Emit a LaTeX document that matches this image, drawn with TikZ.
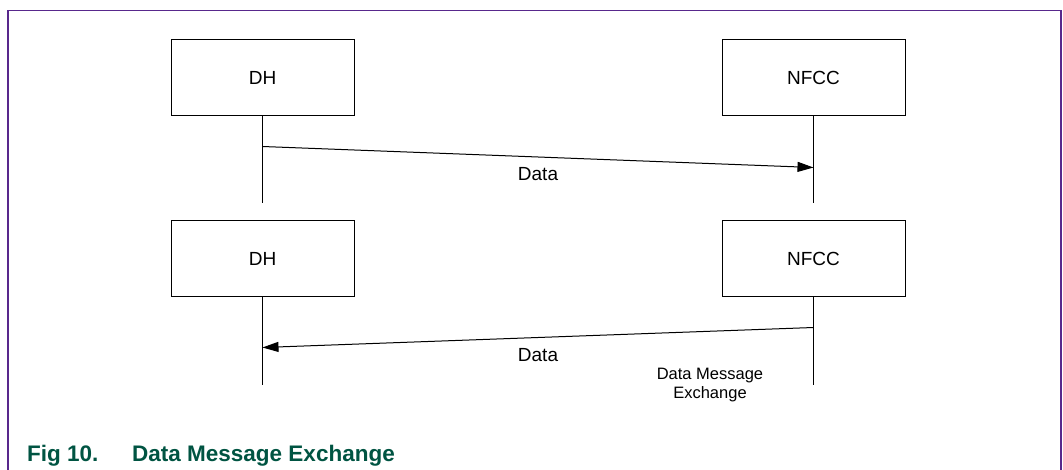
\documentclass[tikz,border=0pt]{standalone}
\usepackage{fontspec}
\setmainfont{Liberation Sans}
\usetikzlibrary{arrows.meta,positioning,calc}
\definecolor{framepurple}{RGB}{88,40,140}
\definecolor{capgreen}{RGB}{0,84,66}
\tikzstyle{party}=[draw,line width=1pt,minimum width=183pt,minimum height=76pt,inner sep=0pt,font=\fontsize{19}{22}\selectfont]
\tikzstyle{life}=[line width=1pt]
\tikzstyle{msg}=[-{Triangle[length=16pt,width=10pt]},line width=1pt]
\tikzstyle{lbl}=[font=\fontsize{19}{22}\selectfont,below=7pt]

\begin{document}
\begin{tikzpicture}[x=1pt,y=-1pt,node distance=104pt and 367pt]
  \useasboundingbox (0,0) rectangle (1063,470);
  \draw[framepurple,line width=1.5pt] (8,480) -- (8,10.5) -- (1061,10.5) -- (1061,480);

  \node (dh1) [party] at (262.5,78) {DH};
  \node (nfcc1) [party,right=of dh1] {NFCC};
  \node (dh2) [party,below=of dh1] {DH};
  \node (nfcc2) [party,below=of nfcc1] {NFCC};

  % lifelines
  \foreach \p in {dh1,nfcc1,dh2,nfcc2}
    \draw[life] (\p.south) -- ++(0,87) coordinate (\p end);

  \coordinate (send from) at ($(dh1.south)+(0,30)$);
  \coordinate (send to) at ($(nfcc1.south)+(0,51)$);
  \coordinate (recv from) at ($(nfcc2.south)+(0,30)$);
  \coordinate (recv to) at ($(dh2.south)+(0,50)$);

  \draw[msg] (send from) -- node[lbl] {Data} (send to);
  \draw[msg] (recv from) -- node[lbl] {Data} (recv to);

  \node (note) [font=\fontsize{16.5}{19}\selectfont,align=center] at (710,385) {Data Message\\Exchange};

  \node (cap) [anchor=base west,text=capgreen,font=\fontsize{22.5}{26}\selectfont\bfseries,inner sep=0pt] at (27,461) {\makebox[105pt][l]{Fig 10.}Data Message Exchange};
\end{tikzpicture}
\end{document}
